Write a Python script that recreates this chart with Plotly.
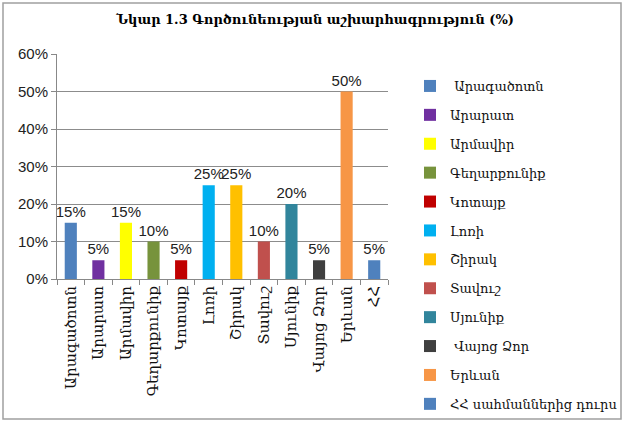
import plotly.graph_objects as go

categories = ["Արագածոտն", "Արարատ", "Արմավիր", "Գեղարքունիք", "Կոտայք", "Լոռի",
              "Շիրակ", "Տավուշ", "Սյունիք", "Վայոց Ձոր", "Երևան", "ՀՀ"]
legend_names = [" Արագածոտն", "Արարատ", "Արմավիր", "Գեղարքունիք", "Կոտայք", "Լոռի",
                "Շիրակ", "Տավուշ", "Սյունիք", " Վայոց Ձոր", "Երևան", "ՀՀ սահմաններից դուրս"]
values = [15, 5, 15, 10, 5, 25, 25, 10, 20, 5, 50, 5]
colors = ["#4F81BD", "#7030A0", "#FFFF00", "#77933C", "#C00000", "#00B0F0",
          "#FFC000", "#C0504D", "#31859C", "#3F3F3F", "#F79646", "#4F81BD"]
y_ticks = [0, 10, 20, 30, 40, 50, 60]
y_tick_labels = ["0%", "10%", "20%", "30%", "40%", "50%", "60%"]

fig = go.Figure()
for i, (c, n, v, col) in enumerate(zip(categories, legend_names, values, colors)):
    fig.add_trace(go.Bar(
        x=[c], y=[v], name=n, marker=dict(color=col, line=dict(width=0)),
        width=0.44, legendgroup=str(i),
        text=[f"{v}%"], textposition="outside", cliponaxis=False,
        constraintext="none",
        textfont=dict(family="Liberation Sans, Arial", size=15, color="#222"),
    ))

fig.update_layout(
    width=624, height=422,
    margin=dict(l=57, r=236, t=54, b=143, autoexpand=False),
    paper_bgcolor="white", plot_bgcolor="white",
    barmode="overlay",
    title=dict(text="<b>Նկար 1.3 Գործունեության աշխարհագրություն (%)</b>",
               x=0.505, xanchor="center", y=0.955, yanchor="middle",
               font=dict(family="DejaVu Serif", size=13, color="#000")),
    showlegend=True,
    legend=dict(x=(410 - 57) / 331, y=(279 - 71) / 225, xanchor="left", yanchor="top",
                font=dict(family="DejaVu Serif", size=13, color="#111"),
                tracegroupgap=9, bgcolor="rgba(0,0,0,0)",
                itemwidth=30, maxheight=400),
    xaxis=dict(type="category", tickangle=-90,
               tickfont=dict(family="DejaVu Serif", size=15, color="#111"),
               showline=True, linecolor="#888", linewidth=1,
               ticks="outside", ticklen=5, tickcolor="#888", tickson="boundaries",
               showgrid=False),
    yaxis=dict(range=[0, 60], tickmode="array", tickvals=y_ticks, ticktext=y_tick_labels,
               tickfont=dict(family="Liberation Sans, Arial", size=15, color="#222"),
               showgrid=True, gridcolor="#8c8c8c", gridwidth=1,
               showline=True, linecolor="#888", linewidth=1,
               ticks="outside", ticklen=5, tickcolor="#888", zeroline=False),
    shapes=[dict(type="rect", xref="paper", yref="paper",
                 x0=(3 - 57) / 331, x1=(621 - 57) / 331,
                 y0=(279 - 419) / 225, y1=(279 - 3) / 225,
                 line=dict(color="#a0a0a0", width=1.5), fillcolor="rgba(0,0,0,0)",
                 layer="below")],
)

fig.write_html("out.html", config={"displayModeBar": False},
               post_script="document.body.style.margin='0';")
